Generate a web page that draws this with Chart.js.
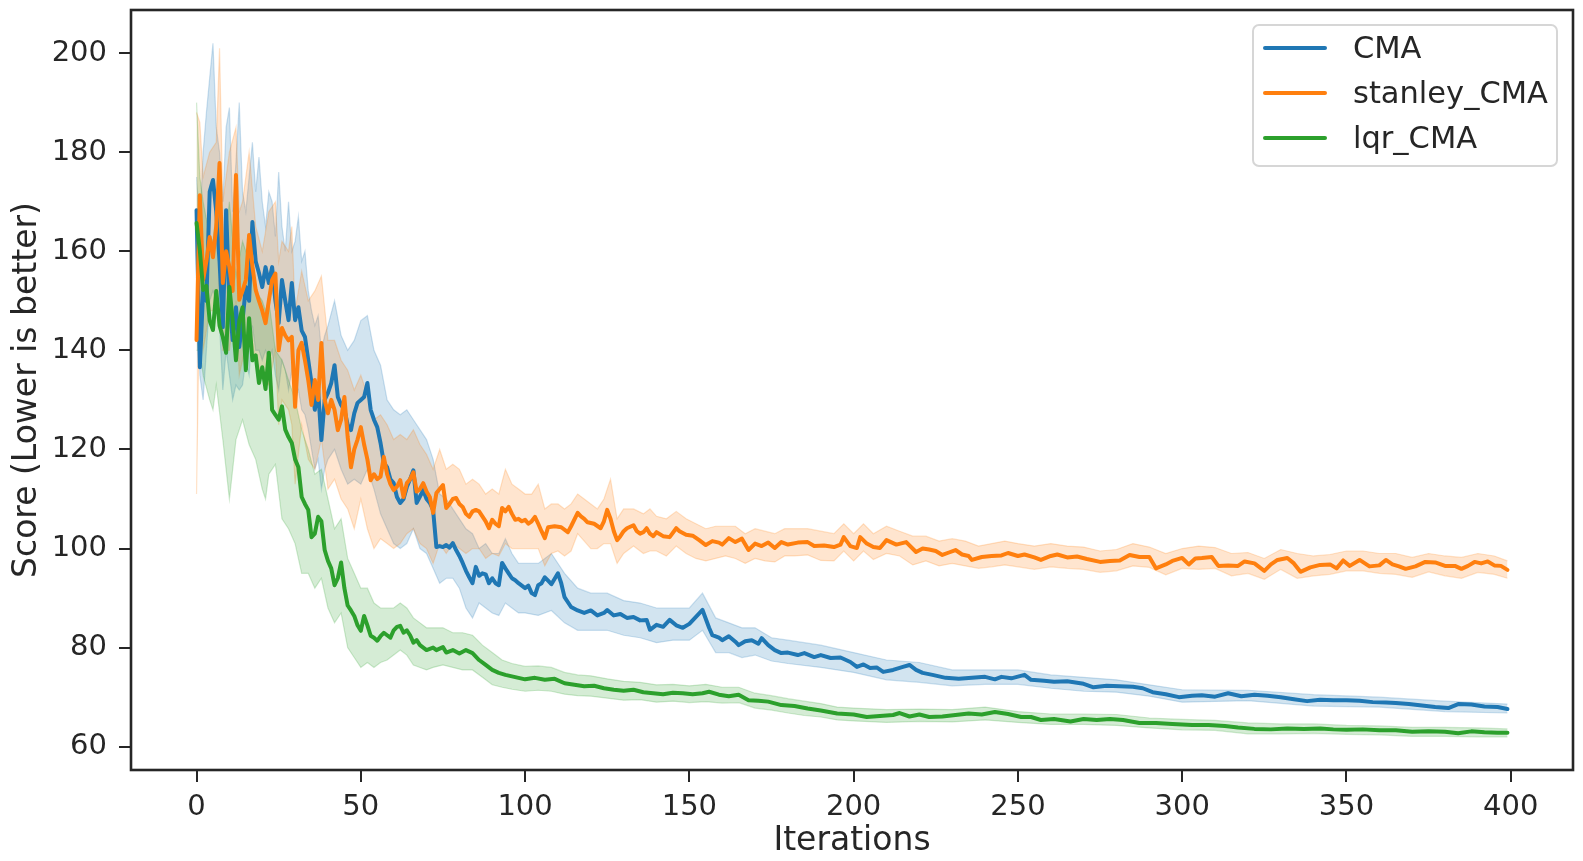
<!DOCTYPE html>
<html>
<head>
<meta charset="utf-8">
<title>Score vs Iterations</title>
<script src="https://cdn.jsdelivr.net/npm/chart.js@4.4.1/dist/chart.umd.min.js"></script>
<style>
  html, body { margin: 0; padding: 0; background: #fff; }
  #wrap { position: relative; width: 1583px; height: 861px; }
  #legend {
    position: absolute; left: 1252px; top: 24px; width: 302px; height: 139px;
    border: 2px solid #d6d6d6; border-radius: 7px; background: rgba(255,255,255,0.8);
    font-family: 'DejaVu Sans', sans-serif; font-size: 30.5px; color: #262626;
  }
  .row { position: absolute; left: 0; height: 44px; display: flex; align-items: center; white-space: nowrap; }
  .swatch { width: 64px; height: 4px; margin-left: 9px; margin-right: 26px; border-radius: 2px; }
</style>
</head>
<body>
<div id="wrap">
  <canvas id="chart" width="1583" height="861"></canvas>
  <div id="legend"></div>
</div>
<script>
const seriesNames = ['CMA', 'stanley_CMA', 'lqr_CMA'];
const seriesColors = ['#1f77b4', '#ff7f0e', '#2ca02c'];
const xTicks = [0, 50, 100, 150, 200, 250, 300, 350, 400];
const yTicks = [60, 80, 100, 120, 140, 160, 180, 200];

// [iteration, mean score]
const cmaMean = [[0,168.3],[1,136.6],[2,152],[3,150],[4,172],[5,174.4],[6,168],[7,158],[8,144.7],[9,168.3],[10,150],[11,142.1],[12,148.7],[13,140.7],[14,146],[15,152.8],[16,150],[17,165.9],[18,158],[19,155.6],[20,152.8],[21,156.8],[22,153.6],[23,156.8],[24,150],[25,145.5],[26,154.2],[27,150],[28,146.1],[29,153.6],[30,146.1],[31,148.7],[32,144],[33,142.7],[34,138],[35,133.4],[36,128],[37,132],[38,121.9],[39,130],[40,131.4],[41,133.4],[42,137],[43,130.6],[44,129],[45,128],[46,125],[47,123.9],[48,127.3],[49,129.4],[50,130],[51,130.6],[52,133.4],[53,128],[54,126],[55,124.5],[56,121.3],[57,117.3],[58,116.4],[59,114],[60,113.2],[61,110.4],[62,109.2],[63,110],[64,112.4],[65,114],[66,115.8],[67,109.2],[68,110.5],[69,111.8],[70,110],[71,109.2],[72,107.8],[73,100.3],[74,100.5],[75,100.3],[76,100.7],[77,100.2],[78,101.1],[79,99.7],[80,98.5],[81,97.1],[82,95.5],[83,94.2],[84,93],[85,96.3],[86,94.5],[87,95],[88,94.8],[89,93],[90,94],[91,93],[92,92.6],[93,97.1],[94,96],[95,95],[96,94],[97,93.6],[98,93],[99,92.5],[100,92],[101,92.5],[102,91],[103,90.6],[104,92.6],[105,93],[106,94.2],[107,93.5],[108,92.8],[110,95],[111,93],[112,90.2],[114,88.2],[116,87.5],[118,87],[120,87.5],[122,86.5],[124,87],[125,87.6],[127,86.5],[129,86.8],[131,86],[133,86.2],[135,85.5],[137,85.6],[138,83.6],[140,84.6],[142,84.2],[144,85.6],[146,84.5],[148,84],[150,84.8],[152,86.2],[154,87.6],[156,84],[157,82.5],[159,82],[160,81.5],[162,82.3],[164,81.2],[165,80.5],[167,81.3],[169,81.5],[171,80.8],[172,81.9],[174,80.5],[176,79.5],[178,78.9],[180,79],[183,78.5],[185,78.9],[188,78.1],[190,78.5],[193,77.9],[196,78],[199,77.1],[201,76.1],[203,76.6],[205,75.9],[207,76],[209,75.1],[212,75.5],[215,76.1],[217,76.5],[219,75.5],[221,74.9],[224,74.5],[228,73.9],[232,73.7],[236,73.9],[240,74.1],[243,73.6],[245,74.1],[248,73.8],[252,74.5],[254,73.5],[258,73.3],[261,73.1],[265,73.2],[270,72.7],[273,72],[277,72.3],[281,72.2],[285,72.1],[288,71.8],[291,71],[295,70.6],[299,70],[303,70.3],[306,70.4],[310,70.1],[314,70.8],[318,70.2],[322,70.5],[326,70.3],[330,70],[334,69.6],[338,69.2],[342,69.5],[346,69.4],[350,69.4],[354,69.3],[358,69],[362,68.9],[365,68.8],[369,68.6],[373,68.3],[377,68],[381,67.8],[384,68.6],[388,68.5],[392,68.1],[396,68],[399,67.6]];

const stanleyMean = [[0,142.1],[1,171.3],[2,154.2],[3,158],[4,162.9],[5,158.8],[6,165],[7,177.8],[8,153.6],[9,160],[10,156.8],[11,152],[12,175.4],[13,150.2],[14,152],[15,154.2],[16,163.3],[17,157],[18,152.2],[19,150],[20,148],[21,145.5],[22,150],[23,154.2],[24,155.5],[25,140],[26,144.5],[27,143],[28,142],[29,142.7],[30,128.6],[31,140],[32,141.5],[33,138],[34,134],[35,129],[36,134],[37,130],[38,141.5],[39,130],[40,127.3],[41,130],[42,128],[43,123.9],[44,126],[45,130.6],[46,122.5],[47,116.4],[48,120],[49,122],[50,124.5],[51,121],[52,118],[53,113.8],[54,115],[55,114],[56,114.5],[57,118.5],[58,115],[59,113],[60,111.8],[61,112.5],[62,113.8],[63,110.4],[64,113.2],[65,114],[66,115.4],[67,111.5],[68,112],[69,113.2],[70,111.5],[71,110.4],[72,107.2],[73,111.2],[74,112],[75,112.8],[76,108.2],[77,109],[78,110],[79,110.2],[80,109],[81,108.4],[82,107],[83,106.4],[84,107.5],[85,107.8],[86,107.5],[87,106.5],[88,105.5],[89,104.1],[90,105.8],[91,105],[92,104.5],[93,108.2],[94,107.5],[95,108.4],[96,107],[97,105.8],[98,106],[99,105.5],[100,105.8],[101,105],[102,105.5],[103,106.4],[104,105],[105,103.5],[106,102.1],[107,104.3],[109,104.5],[111,104.3],[113,103.3],[114,104.5],[116,107.2],[117,106.5],[118,106],[119,105.3],[121,105],[123,104.1],[124,105.5],[125,107.8],[126,106],[127,103.5],[128,101.7],[129,102.5],[130,103.5],[131,104.1],[133,104.7],[134,103.5],[135,103],[136,103.3],[137,104.1],[138,103],[139,102.5],[140,103.3],[142,102.5],[144,102.3],[146,104.1],[147,103.5],[149,102.8],[151,102.6],[153,101.7],[155,100.7],[157,101.5],[159,101.2],[160,100.8],[162,102.1],[164,101.3],[166,102],[168,99.7],[170,101],[172,100.5],[174,101.2],[176,100.1],[178,101.3],[180,100.8],[183,101.2],[186,101.3],[188,100.5],[191,100.6],[194,100.3],[196,100.8],[197,102.3],[199,100.5],[201,100.1],[202,102.3],[204,101],[206,100.3],[208,100.1],[210,101.7],[213,100.8],[216,101.3],[219,99.3],[221,100],[223,99.8],[225,99.5],[227,98.7],[229,99.2],[231,99.7],[233,98.8],[235,98.5],[236,97.7],[239,98.3],[242,98.5],[245,98.6],[247,99.1],[250,98.5],[252,98.8],[255,98.2],[257,97.7],[260,98.5],[262,98.8],[265,98.2],[268,98.4],[271,97.9],[275,97.3],[278,97.5],[281,97.6],[284,98.7],[287,98.3],[290,98.3],[292,96],[295,96.8],[297,97.5],[300,98.1],[302,96.8],[304,98],[306,98.1],[309,98.3],[311,96.5],[314,96.6],[317,96.5],[319,97.4],[322,97],[325,95.5],[327,96.8],[329,97.7],[332,98.1],[334,97],[336,95.3],[339,96.2],[342,96.7],[345,96.8],[347,96],[349,97.6],[351,96.5],[354,97.7],[357,96.4],[360,96.6],[362,97.7],[364,96.8],[366,96.4],[368,95.9],[371,96.4],[374,97.3],[377,97.2],[380,96.5],[383,96.5],[385,95.9],[387,96.5],[389,97.3],[391,97],[393,97.4],[395,96.6],[397,96.5],[399,95.7]];

const lqrMean = [[0,165.7],[1,160.2],[2,152.2],[3,153],[4,146],[5,144.1],[6,152],[7,145],[8,142.7],[9,139.5],[10,152.8],[11,146],[12,138],[13,146],[14,148.7],[15,136],[16,146.5],[17,138],[18,139],[19,133.4],[20,136.6],[21,132.2],[22,139.5],[23,128],[24,127],[25,126],[26,128.7],[27,124],[28,122.5],[29,121.3],[30,118],[31,116.4],[32,110.4],[33,109],[34,107.8],[35,102.3],[36,103],[37,106.4],[38,105.5],[39,99.7],[40,97.5],[41,96],[42,92.6],[43,94],[44,97.2],[45,92],[46,88.5],[47,87.5],[48,86.4],[49,84.5],[50,83.4],[51,86.4],[52,84.5],[53,82.4],[54,82],[55,81.4],[56,82.3],[57,83],[58,82.5],[59,82],[60,83.5],[61,84.2],[62,84.4],[63,83],[64,83.5],[65,82.5],[66,81],[67,81.5],[68,80.5],[69,80],[70,79.5],[72,80],[73,79.5],[75,80.1],[76,79],[78,79.5],[80,78.8],[82,79.5],[84,78.9],[86,77.5],[88,76.5],[90,75.5],[92,74.9],[94,74.5],[96,74.2],[98,73.9],[100,73.6],[103,73.9],[106,73.5],[109,73.7],[112,72.8],[115,72.5],[118,72.2],[121,72.3],[124,71.8],[127,71.5],[130,71.3],[133,71.5],[136,71],[139,70.8],[142,70.6],[145,70.9],[148,70.8],[151,70.6],[154,70.8],[156,71.1],[159,70.5],[162,70.2],[165,70.5],[168,69.4],[171,69.3],[174,69.1],[178,68.4],[182,68.2],[186,67.7],[190,67.3],[195,66.7],[200,66.5],[204,66],[208,66.2],[212,66.4],[214,66.8],[217,66.1],[220,66.5],[223,66],[227,66.1],[231,66.4],[235,66.7],[239,66.5],[243,67],[247,66.6],[251,66],[254,66],[257,65.4],[261,65.6],[266,65.1],[270,65.6],[274,65.4],[278,65.6],[282,65.4],[287,64.8],[292,64.8],[297,64.6],[303,64.4],[308,64.4],[313,64.2],[317,63.9],[322,63.6],[327,63.5],[332,63.7],[337,63.6],[342,63.7],[346,63.5],[350,63.4],[355,63.5],[360,63.3],[365,63.3],[370,63],[375,63.1],[380,63],[384,62.7],[388,63.1],[392,62.9],[396,62.8],[399,62.8]];

// [iteration, lower, upper] of the confidence band
const cmaBand = [[0,162,175],[1,135,165],[2,130,180],[3,140,188],[4,150,195],[5,152,202],[6,150,185],[7,145,180],[8,132,170],[9,140,185],[10,135,189],[11,130,168],[12,133,178],[13,132,190],[14,133,172],[15,138,168],[16,135,175],[17,145,182],[18,140,172],[19,140,179],[20,138,170],[21,140,165],[22,138,172],[23,140,170],[24,135,163],[25,132,176],[26,138,165],[27,136,160],[28,132,170],[29,136,160],[30,130,162],[31,132,167],[32,128,158],[33,127,160],[34,124,152],[35,120,148],[36,116,145],[37,118,147],[38,112,140],[39,116,143],[40,118,145],[42,120,150],[44,116,143],[46,113,140],[48,114,142],[50,113,146],[52,116,147],[54,112,140],[56,107,137],[58,104,130],[60,101,128],[62,100,127],[64,101,128],[66,104,126],[68,100,124],[70,99,122],[72,96,118],[74,93,111],[76,94,110],[78,94,108],[80,92,106],[82,88,104],[84,86,103],[86,89,100],[88,88,101],[90,87,99],[92,86.5,99],[94,89,102],[96,88,99],[98,87,97],[100,87,97],[104,86.5,97],[108,87.5,99],[112,85,95],[116,83.5,92],[120,83.5,91],[125,83.5,91],[130,82.5,89.5],[135,82,89],[140,81,88],[145,81.5,88],[150,81.5,88],[154,83.5,91],[158,79,86],[162,79,85],[166,78,84],[170,78.5,84],[175,77.3,82],[180,76.8,81.5],[190,76,80.5],[200,75,79],[210,73.5,77.5],[220,73,77],[230,72.3,75.5],[240,72.6,75.5],[250,72.6,75.5],[260,71.8,74.5],[270,71.2,74],[280,71,73.5],[290,70.2,72.5],[300,69,71.5],[320,69.3,71.4],[340,68.2,70.5],[360,68,70],[380,67.1,69.2],[399,66.8,68.6]];

const stanleyBand = [[0,111,188],[1,155,186],[2,140,175],[4,148,180],[6,148,182],[7,155,201],[8,140,170],[10,140,180],[12,150,185],[13,135,168],[14,138,170],[16,145,180],[18,138,165],[20,135,160],[22,133,168],[24,140,170],[25,125,158],[26,130,162],[28,128,160],[29,125,165],[30,113,148],[32,125,156],[34,118,150],[36,116,152],[38,122,155],[40,112,142],[42,114,142],[44,110,138],[46,108,136],[48,104,132],[50,110,135],[52,104,131],[54,100,126],[56,102,127],[58,101,125],[60,100,122],[62,101,123],[64,103,122],[66,104,124],[68,101,121],[70,100,119],[72,97,116],[74,101,120],[76,99,116],[78,101,117],[80,100,116],[82,99,113],[84,100,114],[86,100,113],[88,98,111],[90,99,112],[92,98.5,111],[94,101,116],[96,100,113],[98,100,112],[100,100,111],[102,100,111],[104,100,113],[106,96.5,108],[108,99,109],[110,99.5,109],[112,98.5,108],[114,99.5,109],[116,103,111],[118,101.5,110],[120,100,109],[122,100,108],[124,101,110],[126,101,114],[128,97,106],[130,99,108],[133,100.5,108],[136,99,107],[138,99.5,108],[140,99.5,106.5],[143,98.5,106],[146,100.5,107.5],[149,99,106],[152,98,105],[155,97.5,104],[158,98,104.5],[161,98.5,104.5],[164,98,104.5],[167,97,103],[170,98,104],[173,97.5,103.5],[176,97.3,103],[179,98.5,104],[182,98.5,104],[186,98.7,104],[190,97.6,103.5],[194,97.5,103],[197,99.5,105],[200,97.5,103],[203,99.5,105],[206,97.8,103],[210,99,104.5],[214,98.5,103.5],[218,96.7,102.5],[222,97.5,102.5],[226,96.5,101.5],[230,97,102],[234,96.5,101.5],[238,96,100.5],[242,96.3,101],[246,96.7,101.5],[250,96.3,101],[255,95.8,100.5],[260,96.3,101],[265,96,100.5],[270,95.8,100.3],[275,95.2,99.5],[280,95.5,99.8],[285,96.5,101],[290,96.2,100.3],[295,94.7,99],[300,96,100],[305,95.8,100.5],[310,96,100.2],[315,94.5,99],[320,95,99.2],[325,93.8,98],[330,95.8,99.8],[335,94,99],[340,94.5,98.5],[345,94.8,98.8],[350,95.5,99.5],[355,95.5,99.5],[360,95,99],[365,94.8,99],[370,94.2,98.2],[375,95.3,99],[380,94.5,98.5],[385,94,98.2],[390,95.2,99],[395,94.8,98.5],[399,94,97.5]];

const lqrBand = [[0,140,190],[1,140,175],[2,135,170],[4,130,163],[5,128,162],[6,133,168],[8,122,158],[10,110,170],[12,122,155],[14,126,162],[16,121,158],[18,118,152],[20,112,150],[21,110,148],[22,115,150],[24,117,140],[26,106,138],[28,104,134],[30,101,130],[32,95,124],[34,95,120],[36,92,115],[38,94,116],[40,88,110],[42,85,104],[44,87,106],[46,80,98],[48,78,95],[50,76,92],[52,77,92],[54,76,89],[56,77,88],[58,77.5,88],[60,78.5,88],[62,79.5,89],[64,78.5,88],[66,76.5,86],[68,76,85],[70,75.5,84],[72,76,84],[75,76.5,84],[78,76,83],[81,75.5,83],[84,75.5,82.5],[87,74,80.5],[90,72.5,79],[93,72,77.5],[96,71.6,76.8],[100,71.2,76.2],[104,71.4,76.3],[108,71.2,76],[112,70.6,75],[116,70.3,74.5],[120,70.2,74.3],[125,69.8,73.7],[130,69.4,73.2],[135,69.5,73],[140,69,72.5],[145,69.2,72.6],[150,68.9,72.3],[155,69.1,72.6],[160,68.8,72],[165,68.9,72],[170,67.8,70.8],[175,67.4,70.3],[180,66.8,69.7],[185,66.3,69.2],[190,66,68.7],[195,65.4,68],[200,65.2,67.8],[210,64.9,67.5],[220,65.1,67.6],[230,65,67.5],[240,65.4,68],[250,64.9,67.1],[260,64.5,66.6],[270,64.5,66.6],[280,64.3,66.5],[290,63.8,65.8],[300,63.4,65.5],[310,63.3,65.3],[320,62.6,64.8],[330,62.6,64.6],[340,62.7,64.6],[350,62.5,64.3],[360,62.4,64.2],[370,62.1,63.9],[380,62.1,63.9],[390,62,63.8],[399,62,63.6]];

const means = [cmaMean, stanleyMean, lqrMean];
const bands = [cmaBand, stanleyBand, lqrBand];

function toXY(rows, col) {
    return rows.map(r => ({x: r[0], y: r[col]}));
}

function rgba(hex, a) {
    const n = parseInt(hex.slice(1), 16);
    return `rgba(${(n >> 16) & 255}, ${(n >> 8) & 255}, ${n & 255}, ${a})`;
}

// bands go first (lower/upper pairs), mean lines after; lower order = drawn on top
const datasets = [];
bands.forEach((band, i) => {
    const c = seriesColors[i];
    datasets.push({
        data: toXY(band, 1), borderColor: rgba(c, 0.22), borderWidth: 1.2,
        pointRadius: 0, fill: false, order: 10 - i * 2
    });
    datasets.push({
        data: toXY(band, 2), borderColor: rgba(c, 0.22), borderWidth: 1.2,
        pointRadius: 0, fill: '-1', backgroundColor: rgba(c, 0.2), order: 9 - i * 2
    });
});
means.forEach((m, i) => {
    datasets.push({
        label: seriesNames[i], data: toXY(m, 1), borderColor: seriesColors[i],
        borderWidth: 4, pointRadius: 0, fill: false, order: 2 - i,
        borderJoinStyle: 'round', borderCapStyle: 'round'
    });
});

const ink = '#262626';
const tickFont = {family: 'DejaVu Sans', size: 29};
const titleFont = {family: 'DejaVu Sans', size: 33};

const framePlugin = {
    id: 'frame',
    afterDraw(chart) {
        const {ctx, chartArea: a} = chart;
        ctx.save();
        ctx.strokeStyle = ink;
        ctx.lineWidth = 2.6;
        ctx.strokeRect(a.left, a.top, a.right - a.left, a.bottom - a.top);
        ctx.restore();
    }
};

new Chart(document.getElementById('chart').getContext('2d'), {
    type: 'line',
    data: {datasets: datasets},
    plugins: [framePlugin],
    options: {
        responsive: false,
        animation: false,
        devicePixelRatio: 1,
        layout: {padding: {left: 0, right: 10, top: 10, bottom: 0}},
        plugins: {legend: {display: false}, tooltip: {enabled: false}},
        scales: {
            x: {
                type: 'linear', min: -19.95, max: 418.95,
                afterBuildTicks: s => { s.ticks = xTicks.map(v => ({value: v})); },
                afterFit: s => { s.height = 91; s.paddingLeft = 0; s.paddingRight = 0; },
                grid: {drawOnChartArea: false, drawTicks: true, tickLength: 12, color: ink, lineWidth: 2},
                border: {display: false},
                ticks: {color: ink, font: tickFont, padding: 8, maxRotation: 0},
                title: {display: true, text: 'Iterations', color: ink, font: titleFont, padding: {top: 0, bottom: 0}}
            },
            y: {
                type: 'linear', min: 55.3, max: 208.7,
                afterBuildTicks: s => { s.ticks = yTicks.map(v => ({value: v})); },
                afterFit: s => { s.width = 131; s.paddingTop = 0; s.paddingBottom = 0; },
                grid: {drawOnChartArea: false, drawTicks: true, tickLength: 12, color: ink, lineWidth: 2},
                border: {display: false},
                ticks: {color: ink, font: tickFont, padding: 12},
                title: {display: true, text: 'Score (Lower is better)', color: ink, font: titleFont, padding: {top: 8, bottom: 0}}
            }
        }
    }
});

// legend box in the upper right of the plot
const legend = document.getElementById('legend');
seriesNames.forEach((name, i) => {
    const row = document.createElement('div');
    row.className = 'row';
    row.style.top = (-0.5 + i * 45) + 'px';
    const sw = document.createElement('span');
    sw.className = 'swatch';
    sw.style.background = seriesColors[i];
    const label = document.createElement('span');
    label.textContent = name;
    row.appendChild(sw);
    row.appendChild(label);
    legend.appendChild(row);
});
</script>
</body>
</html>
